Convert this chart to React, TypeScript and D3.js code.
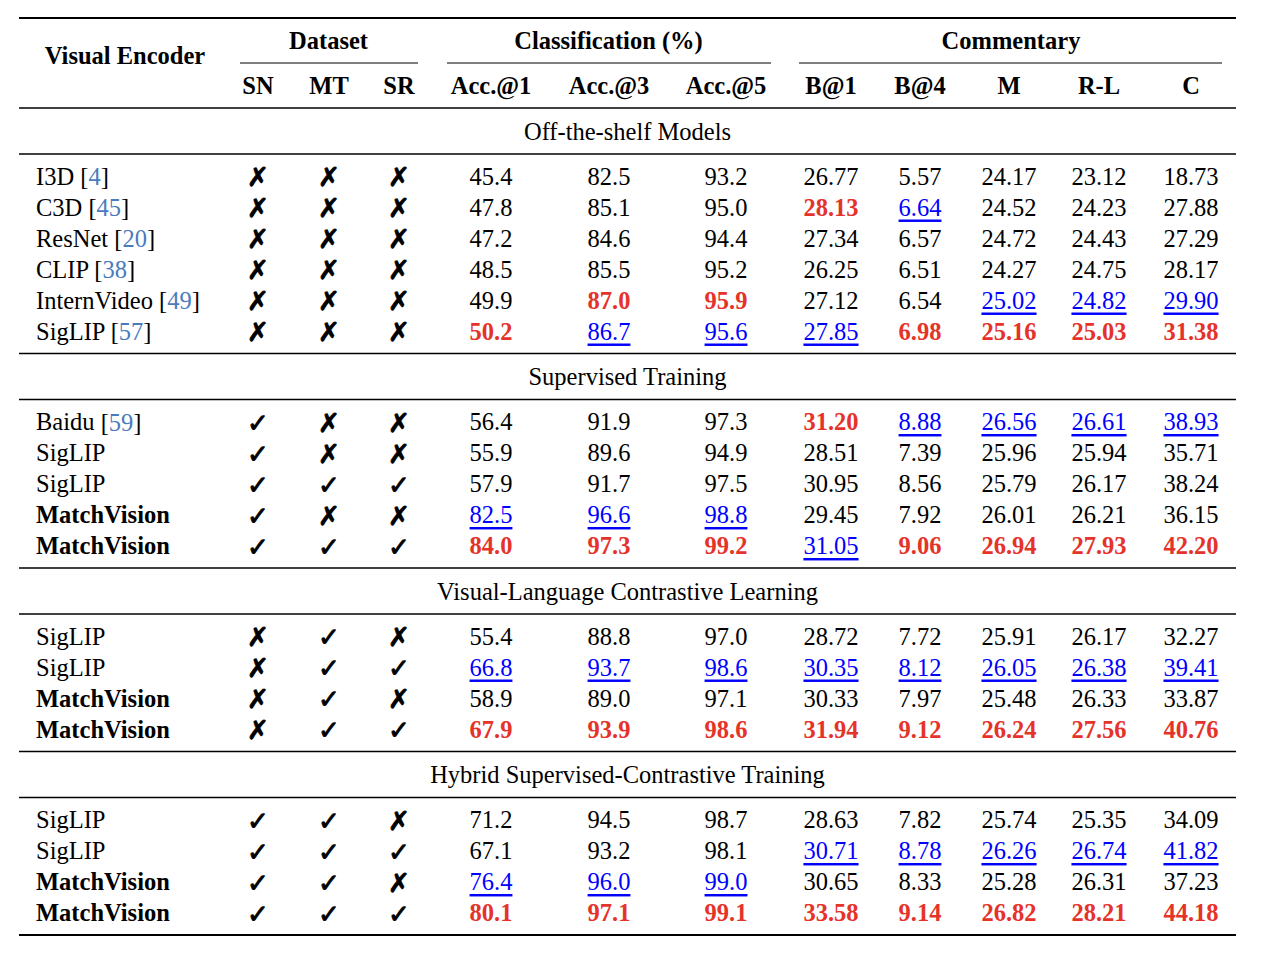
import React from "react";
import * as d3 from "d3";

// ---------- DATA ----------
const groupHeaders = ["Dataset", "Classification (%)", "Commentary"];
const subHeaders = ["SN", "MT", "SR", "Acc.@1", "Acc.@3", "Acc.@5", "B@1", "B@4", "M", "R-L", "C"];
const sectionTitles = [
  "Off-the-shelf Models",
  "Supervised Training",
  "Visual-Language Contrastive Learning",
  "Hybrid Supervised-Contrastive Training",
];
const sectionSizes = [6, 5, 4, 4];

const encoderNames = [
  "I3D", "C3D", "ResNet", "CLIP", "InternVideo", "SigLIP",
  "Baidu", "SigLIP", "SigLIP", "MatchVision", "MatchVision",
  "SigLIP", "SigLIP", "MatchVision", "MatchVision",
  "SigLIP", "SigLIP", "MatchVision", "MatchVision",
];
const citations = [
  "4", "45", "20", "38", "49", "57",
  "59", "", "", "", "",
  "", "", "", "",
  "", "", "", "",
];
const oursFlags = [
  0, 0, 0, 0, 0, 0,
  0, 0, 0, 1, 1,
  0, 0, 1, 1,
  0, 0, 1, 1,
];
// dataset usage: SN, MT, SR (1 = used)
const datasetFlags = [
  [0, 0, 0], [0, 0, 0], [0, 0, 0], [0, 0, 0], [0, 0, 0], [0, 0, 0],
  [1, 0, 0], [1, 0, 0], [1, 1, 1], [1, 0, 0], [1, 1, 1],
  [0, 1, 0], [0, 1, 1], [0, 1, 0], [0, 1, 1],
  [1, 1, 0], [1, 1, 1], [1, 1, 0], [1, 1, 1],
];
const metricValues = [
  ["45.4", "82.5", "93.2", "26.77", "5.57", "24.17", "23.12", "18.73"],
  ["47.8", "85.1", "95.0", "28.13", "6.64", "24.52", "24.23", "27.88"],
  ["47.2", "84.6", "94.4", "27.34", "6.57", "24.72", "24.43", "27.29"],
  ["48.5", "85.5", "95.2", "26.25", "6.51", "24.27", "24.75", "28.17"],
  ["49.9", "87.0", "95.9", "27.12", "6.54", "25.02", "24.82", "29.90"],
  ["50.2", "86.7", "95.6", "27.85", "6.98", "25.16", "25.03", "31.38"],
  ["56.4", "91.9", "97.3", "31.20", "8.88", "26.56", "26.61", "38.93"],
  ["55.9", "89.6", "94.9", "28.51", "7.39", "25.96", "25.94", "35.71"],
  ["57.9", "91.7", "97.5", "30.95", "8.56", "25.79", "26.17", "38.24"],
  ["82.5", "96.6", "98.8", "29.45", "7.92", "26.01", "26.21", "36.15"],
  ["84.0", "97.3", "99.2", "31.05", "9.06", "26.94", "27.93", "42.20"],
  ["55.4", "88.8", "97.0", "28.72", "7.72", "25.91", "26.17", "32.27"],
  ["66.8", "93.7", "98.6", "30.35", "8.12", "26.05", "26.38", "39.41"],
  ["58.9", "89.0", "97.1", "30.33", "7.97", "25.48", "26.33", "33.87"],
  ["67.9", "93.9", "98.6", "31.94", "9.12", "26.24", "27.56", "40.76"],
  ["71.2", "94.5", "98.7", "28.63", "7.82", "25.74", "25.35", "34.09"],
  ["67.1", "93.2", "98.1", "30.71", "8.78", "26.26", "26.74", "41.82"],
  ["76.4", "96.0", "99.0", "30.65", "8.33", "25.28", "26.31", "37.23"],
  ["80.1", "97.1", "99.1", "33.58", "9.14", "26.82", "28.21", "44.18"],
];
// rank marks: 1 = best, 2 = second best, 0 = none
const metricRanks = [
  [0, 0, 0, 0, 0, 0, 0, 0],
  [0, 0, 0, 1, 2, 0, 0, 0],
  [0, 0, 0, 0, 0, 0, 0, 0],
  [0, 0, 0, 0, 0, 0, 0, 0],
  [0, 1, 1, 0, 0, 2, 2, 2],
  [1, 2, 2, 2, 1, 1, 1, 1],
  [0, 0, 0, 1, 2, 2, 2, 2],
  [0, 0, 0, 0, 0, 0, 0, 0],
  [0, 0, 0, 0, 0, 0, 0, 0],
  [2, 2, 2, 0, 0, 0, 0, 0],
  [1, 1, 1, 2, 1, 1, 1, 1],
  [0, 0, 0, 0, 0, 0, 0, 0],
  [2, 2, 2, 2, 2, 2, 2, 2],
  [0, 0, 0, 0, 0, 0, 0, 0],
  [1, 1, 1, 1, 1, 1, 1, 1],
  [0, 0, 0, 0, 0, 0, 0, 0],
  [0, 0, 0, 2, 2, 2, 2, 2],
  [2, 2, 2, 0, 0, 0, 0, 0],
  [1, 1, 1, 1, 1, 1, 1, 1],
];

// ---------- LAYOUT ----------
const W = 1262;
const H = 956;
const FONT = "'Liberation Serif', 'Times New Roman', serif";
const FS = 24.5;
const RED = "#e5332a";
const BLUE = "#0000ff";
const CITE = "#4a7bbd";

const colKeys = subHeaders;
const colCenters = [258, 329, 399, 491, 609, 726, 831, 920, 1009, 1099, 1191];
const xCol = d3.scaleOrdinal<string, number>().domain(colKeys).range(colCenters);
const groupSpans: [number, number][] = [[0, 2], [3, 5], [6, 10]];
const ruleSpans = [[240, 418], [447, 771], [799, 1222]];
const X0 = 19;
const X1 = 1236;
const NAME_X = 36;

function buildLayout() {
  const rowH = 31;
  const rules: { y: number; w: number }[] = [];
  const titles: { y: number; text: string }[] = [];
  const rows: { y: number; idx: number }[] = [];
  let y = 108; // midrule under headers
  rules.push({ y, w: 1.3 });
  let idx = 0;
  sectionTitles.forEach((t, s) => {
    titles.push({ y: y + 23, text: t });
    y += 46;
    rules.push({ y, w: 1.3 });
    const n = sectionSizes[s];
    d3.range(n).forEach((k) => {
      rows.push({ y: y + 22 + k * rowH, idx: idx++ });
    });
    y = y + 22 + (n - 1) * rowH + 22.5;
    rules.push({ y, w: s === sectionTitles.length - 1 ? 2.2 : 1.3 });
  });
  return { rules, titles, rows };
}

const T = (props: any) => (
  <text fontFamily={FONT} fontSize={FS} dominantBaseline="central" {...props} />
);

export default function App() {
  const { rules, titles, rows } = buildLayout();
  const hy = -1;
  return (
    <svg width={W} height={H} style={{ display: "block", position: "absolute", left: 0, top: 0, background: "#fff" }}>
      <rect width={W} height={H} fill="#fff" />
      {/* top rule */}
      <line x1={X0} x2={X1} y1={18} y2={18} stroke="#000" strokeWidth={2.2} />
      {/* header */}
      <T x={125} y={56 + hy} textAnchor="middle" fontWeight="bold">Visual Encoder</T>
      {groupHeaders.map((g, i) => {
        const [a, b] = groupSpans[i];
        const cx = ((xCol(colKeys[a]) as number) + (xCol(colKeys[b]) as number)) / 2;
        return (
          <T key={g} x={cx} y={41 + hy} textAnchor="middle" fontWeight="bold">{g}</T>
        );
      })}
      {ruleSpans.map(([a, b], i) => (
        <line key={i} x1={a} x2={b} y1={63} y2={63} stroke="#000" strokeWidth={1.2} />
      ))}
      {subHeaders.map((h) => (
        <T key={h} x={xCol(h)} y={86 + hy} textAnchor="middle" fontWeight="bold">{h}</T>
      ))}
      {rules.map((r, i) => (
        <line key={i} x1={X0} x2={X1} y1={r.y} y2={r.y} stroke="#000" strokeWidth={r.w} />
      ))}
      {titles.map((t) => (
        <T key={t.text} x={(X0 + X1) / 2} y={t.y} textAnchor="middle">{t.text}</T>
      ))}
      {rows.map(({ y, idx }) => (
        <g key={idx}>
          <T x={NAME_X} y={y} fontWeight={oursFlags[idx] ? "bold" : "normal"}>
            {encoderNames[idx]}
            {citations[idx] ? (
              <>
                <tspan>{" ["}</tspan>
                <tspan fill={CITE}>{citations[idx]}</tspan>
                <tspan>]</tspan>
              </>
            ) : null}
          </T>
          {datasetFlags[idx].map((f, j) => (
            <text
              key={j}
              x={xCol(colKeys[j])}
              y={y + 1}
              textAnchor="middle"
              dominantBaseline="central"
              fontFamily="'DejaVu Sans', sans-serif"
              fontSize={26}
              stroke="#000"
              strokeWidth={0.9}
              strokeLinejoin="round"
            >
              {f ? "\u2713" : "\u2717"}
            </text>
          ))}
          {metricValues[idx].map((v, j) => {
            const rank = metricRanks[idx][j];
            return (
              <T
                key={j}
                x={xCol(colKeys[j + 3])}
                y={y}
                textAnchor="middle"
                fill={rank === 1 ? RED : rank === 2 ? BLUE : "#000"}
                fontWeight={rank === 1 ? "bold" : "normal"}
                style={rank === 2 ? { textDecoration: "underline" } : undefined}
              >
                {v}
              </T>
            );
          })}
        </g>
      ))}
    </svg>
  );
}
